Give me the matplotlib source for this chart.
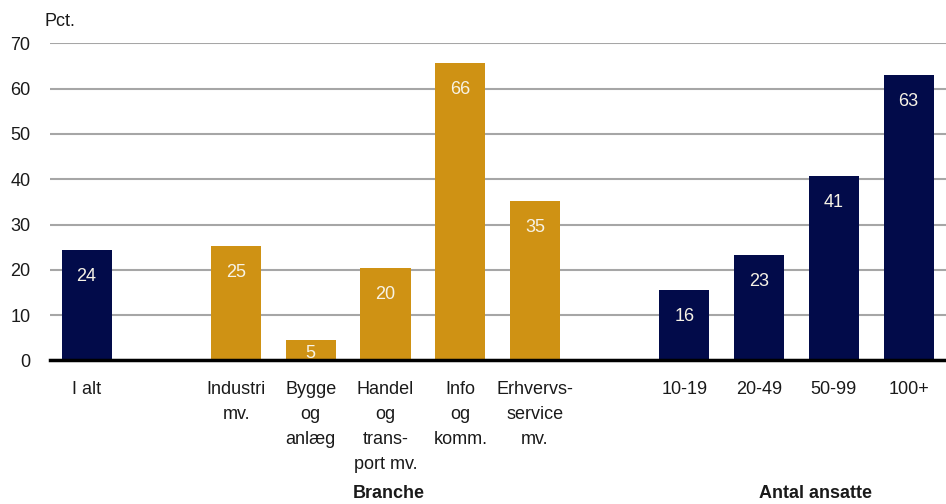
import matplotlib
matplotlib.use("Agg")
import matplotlib.pyplot as plt
import numpy as np

plt.rcParams['font.family'] = ['Liberation Sans Narrow', 'Liberation Sans', 'DejaVu Sans']

# data
labels = ['I alt', '', 'Industri\nmv.', 'Bygge\nog\nanlæg', 'Handel\nog\ntrans-\nport mv.',
          'Info\nog\nkomm.', 'Erhvervs-\nservice\nmv.', '', '10-19', '20-49', '50-99', '100+']
values = [24.4, None, 25.3, 4.6, 20.4, 65.6, 35.1, None, 15.6, 23.3, 40.7, 63.0]
groups = ['total', None, 'branche', 'branche', 'branche', 'branche', 'branche', None,
          'size', 'size', 'size', 'size']

navy = '#020b4a'
gold = '#cf9214'
colors = {'total': navy, 'branche': gold, 'size': navy}

fig = plt.figure(figsize=(9.46, 5.04), dpi=100)
ax = fig.add_axes([50/946, 1 - 360.4/504, 1 - 50/946, 317/504])

x = np.arange(len(labels))
for i, v in enumerate(values):
    if v is None:
        continue
    ax.bar(x[i], v, width=0.67, color=colors[groups[i]], zorder=3)
    ax.text(x[i], max(v - 5.8, 1.6), f"{v:.0f}", ha='center', va='center',
            color='#f7f3e6', fontsize=13, zorder=4)

ax.set_xlim(-0.49, 11.5)
ax.set_ylim(0, 70)
ax.set_yticks(range(0, 71, 10))
ax.yaxis.grid(True, color='#a6a6a6', linewidth=1.5, zorder=0)
ax.set_axisbelow(True)
for s in ['top', 'right', 'left']:
    ax.spines[s].set_visible(False)
ax.spines['bottom'].set_linewidth(2.5)
ax.spines['bottom'].set_color('black')
ax.spines['bottom'].set_zorder(5)

ax.set_xticks(x)
ax.set_xticklabels(labels, fontsize=13, color='#1a1a1a', linespacing=1.6, va='top')
ax.tick_params(axis='x', length=0, pad=15)
ax.tick_params(axis='y', length=0, pad=14, labelsize=13, labelcolor='#1a1a1a')

fig.text(45/946, 1 - 22/504, 'Pct.', fontsize=13, color='#1a1a1a', va='center', ha='left')
ax.text(4.04, -29.3, 'Branche', fontsize=13, fontweight='bold', ha='center', va='center',
        color='#1a1a1a')
ax.text(9.76, -29.3, 'Antal ansatte', fontsize=13, fontweight='bold', ha='center', va='center',
        color='#1a1a1a')

fig.savefig('out.png', dpi=100)
